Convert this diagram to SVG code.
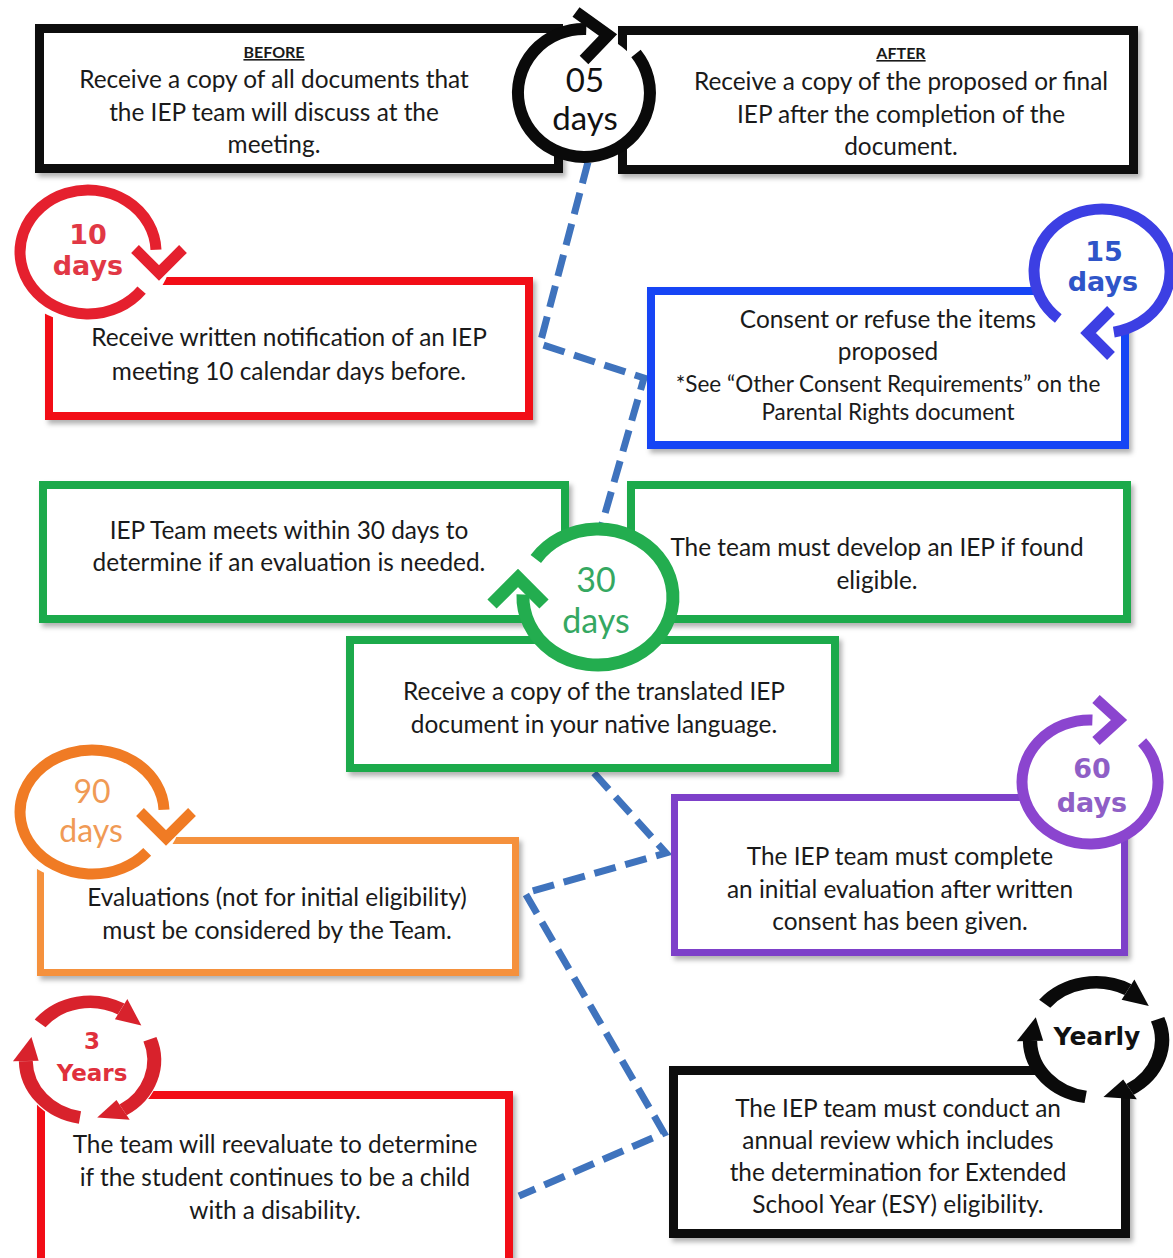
<svg xmlns="http://www.w3.org/2000/svg" xmlns:xlink="http://www.w3.org/1999/xlink" width="1173" height="1258" viewBox="0 0 1173 1258">
<style>
.box{fill:#fff;filter:url(#sh)}
.t{font-family:Lato,"Liberation Sans",sans-serif;font-size:24.4px;fill:#1a1a1a;text-anchor:middle}
.ts{font-size:22.5px}
.hd{font-size:16px;font-weight:bold;text-decoration:underline}
.ic{font-family:Lato,"Liberation Sans",sans-serif;text-anchor:middle}
.icb{font-family:"DejaVu Sans",Verdana,sans-serif;font-weight:bold;text-anchor:middle}
.ring{fill:none;stroke-linecap:butt}
.chev{fill:none;stroke-linejoin:miter;stroke-linecap:butt}
.wh{fill:#fff;stroke:none}
.dash{fill:none;stroke:#3f73bd;stroke-width:7;stroke-dasharray:22 10;stroke-linejoin:miter}
</style>
<defs>
<filter id="sh" x="-5%" y="-5%" width="110%" height="115%">
<feDropShadow dx="3" dy="4" stdDeviation="2.5" flood-color="#000" flood-opacity="0.3"/>
</filter>
<g id="seg">
<path d="M-46.63,-37.76 A60,60 0 0 1 29.09,-52.48" fill="none" stroke-width="13"/>
<polygon points="34.9,-63 48,-35.5 23.3,-42" stroke="none"/>
</g>
</defs>
<rect width="1173" height="1258" fill="#fff"/>

<g id="connectors">
<path class="dash" d="M588,162 L540,344 L644,378 L602,524"/>
<path class="dash" d="M594,773 L666,853 L525,893 L664,1133 L519,1196"/>
</g>

<g id="before">
<rect class="box" x="39.5" y="28.5" width="519" height="140" stroke="#0a0a0a" stroke-width="9"/>
<text class="t hd" x="274" y="58">BEFORE</text>
<text class="t" x="274" y="88">Receive a copy of all documents that</text>
<text class="t" x="274" y="121">the IEP team will discuss at the</text>
<text class="t" x="274" y="153">meeting.</text>
</g>

<g id="after">
<rect class="box" x="622.5" y="30.5" width="511" height="139" stroke="#0a0a0a" stroke-width="9"/>
<text class="t hd" x="901" y="59">AFTER</text>
<text class="t" x="901" y="90">Receive a copy of the proposed or final</text>
<text class="t" x="901" y="123">IEP after the completion of the</text>
<text class="t" x="901" y="155">document.</text>
</g>

<g id="icon-05days">
<ellipse class="wh" cx="584" cy="93" rx="61" ry="59"/>
<path class="ring" d="M636,53.6 A66,64 0 1 1 586.3,29" stroke="#0a0a0a" stroke-width="12"/>
<polyline class="chev" points="576,12 608,35 584,60" stroke="#0a0a0a" stroke-width="12"/>
<text class="ic" x="585" y="92" font-size="33" fill="#111">05</text>
<text class="ic" x="585" y="130" font-size="33" fill="#111">days</text>
</g>

<g id="notice-10days">
<rect class="box" x="49" y="281" width="480" height="135" stroke="#f20d17" stroke-width="8"/>
<ellipse class="wh" cx="88" cy="252" rx="84" ry="72"/>
<path class="ring" d="M141.6,290.2 A68,62 0 1 1 156,249.8" stroke="#e5202e" stroke-width="11"/>
<polyline class="chev" points="135,249 159,273 183,249" stroke="#e5202e" stroke-width="11"/>
<text class="icb" x="88" y="244" font-size="27" fill="#e13845">10</text>
<text class="icb" x="88" y="275" font-size="27" fill="#e13845">days</text>
<text class="t" x="289" y="346">Receive written notification of an IEP</text>
<text class="t" x="289" y="380">meeting 10 calendar days before.</text>
</g>

<g id="consent-15days">
<rect class="box" x="651" y="291" width="474" height="154" stroke="#1544f5" stroke-width="8"/>
<ellipse class="wh" cx="1102" cy="271" rx="68" ry="62"/>
<path class="ring" d="M1058.3,318.5 A68,62 0 1 1 1113.8,332.1" stroke="#3c3fe3" stroke-width="11"/>
<polyline class="chev" points="1111,310 1088,333 1111,356" stroke="#3c3fe3" stroke-width="11"/>
<text class="icb" x="1104" y="261" font-size="27" fill="#2f55c8">15</text>
<text class="icb" x="1103" y="291" font-size="27" fill="#2f55c8">days</text>
<text class="t" x="888" y="328">Consent or refuse the items</text>
<text class="t" x="888" y="360">proposed</text>
<text class="t ts" x="888" y="392">*See “Other Consent Requirements” on the</text>
<text class="t ts" x="888" y="420">Parental Rights document</text>
</g>

<g id="meet-30days">
<rect class="box" x="43" y="485" width="522" height="134" stroke="#1eaa4c" stroke-width="8"/>
<text class="t" x="289" y="539">IEP Team meets within 30 days to</text>
<text class="t" x="289" y="571">determine if an evaluation is needed.</text>
</g>

<g id="develop-iep">
<rect class="box" x="631" y="485" width="496" height="134" stroke="#1eaa4c" stroke-width="8"/>
<text class="t" x="877" y="556">The team must develop an IEP if found</text>
<text class="t" x="877" y="589">eligible.</text>
</g>

<g id="translated-iep">
<rect class="box" x="350" y="640" width="485" height="128" stroke="#1eaa4c" stroke-width="8"/>
<text class="t" x="594" y="700">Receive a copy of the translated IEP</text>
<text class="t" x="594" y="733">document in your native language.</text>
</g>

<g id="icon-30days">
<ellipse class="wh" cx="598" cy="597" rx="75" ry="68"/>
<path class="ring" d="M535.8,559 A75,68 0 1 1 523,594.6" stroke="#23ad4f" stroke-width="13"/>
<polyline class="chev" points="492,604 518,578 544,604" stroke="#23ad4f" stroke-width="13"/>
<text class="ic" x="596" y="592" font-size="34" fill="#35a862">30</text>
<text class="ic" x="596" y="633" font-size="34" fill="#35a862">days</text>
</g>

<g id="eval-60days">
<rect class="box" x="674.5" y="797.5" width="450" height="155" stroke="#7d3fc9" stroke-width="7"/>
<ellipse class="wh" cx="1090" cy="782" rx="68" ry="62"/>
<path class="ring" d="M1142.1,742.1 A68,62 0 1 1 1092.4,720" stroke="#8b45cf" stroke-width="11"/>
<polyline class="chev" points="1096,699 1119,720 1096,741" stroke="#8b45cf" stroke-width="11"/>
<text class="icb" x="1092" y="778" font-size="27" fill="#8f5fc6">60</text>
<text class="icb" x="1092" y="812" font-size="27" fill="#8f5fc6">days</text>
<text class="t" x="900" y="865">The IEP team must complete</text>
<text class="t" x="900" y="898">an initial evaluation after written</text>
<text class="t" x="900" y="930">consent has been given.</text>
</g>

<g id="evals-90days">
<rect class="box" x="40.5" y="840.5" width="475" height="132" stroke="#f5913e" stroke-width="7"/>
<ellipse class="wh" cx="92" cy="812" rx="90" ry="72"/>
<path class="ring" d="M147.2,851.9 A72,62 0 1 1 164,809.8" stroke="#f07b24" stroke-width="11"/>
<polyline class="chev" points="140,812 166,838 192,812" stroke="#f07b24" stroke-width="11"/>
<text class="ic" x="92" y="803" font-size="32" fill="#f09a55">90</text>
<text class="ic" x="91" y="842" font-size="32" fill="#f09a55">days</text>
<text class="t" x="277" y="906">Evaluations (not for initial eligibility)</text>
<text class="t" x="277" y="939">must be considered by the Team.</text>
</g>

<g id="reeval-3years">
<rect class="box" x="41" y="1095" width="468" height="180" stroke="#f20d17" stroke-width="8"/>
<ellipse class="wh" cx="90" cy="1060" rx="72" ry="66"/>
<g transform="translate(90,1060) scale(1.07,0.97)" fill="#d8222c" stroke="#d8222c">
<use xlink:href="#seg"/>
<use xlink:href="#seg" transform="rotate(120)"/>
<use xlink:href="#seg" transform="rotate(240)"/>
</g>
<text class="icb" x="92" y="1049" font-size="23" fill="#e0303c">3</text>
<text class="icb" x="92" y="1081" font-size="23" fill="#e0303c">Years</text>
<text class="t" x="275" y="1153">The team will reevaluate to determine</text>
<text class="t" x="275" y="1186">if the student continues to be a child</text>
<text class="t" x="275" y="1219">with a disability.</text>
</g>

<g id="annual-yearly">
<rect class="box" x="673.5" y="1070.5" width="452" height="163" stroke="#0a0a0a" stroke-width="9"/>
<ellipse class="wh" cx="1096" cy="1040" rx="66" ry="57"/>
<g transform="translate(1096,1040) scale(1.1,0.96)" fill="#0a0a0a" stroke="#0a0a0a">
<use xlink:href="#seg"/>
<use xlink:href="#seg" transform="rotate(120)"/>
<use xlink:href="#seg" transform="rotate(240)"/>
</g>
<text class="icb" x="1097" y="1045" font-size="25" fill="#111">Yearly</text>
<text class="t" x="898" y="1117">The IEP team must conduct an</text>
<text class="t" x="898" y="1149">annual review which includes</text>
<text class="t" x="898" y="1181">the determination for Extended</text>
<text class="t" x="898" y="1213">School Year (ESY) eligibility.</text>
</g>
</svg>
